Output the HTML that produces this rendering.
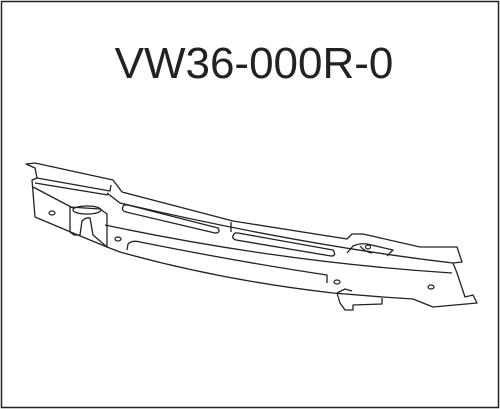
<!DOCTYPE html>
<html><head><style>
html,body{margin:0;padding:0;background:#fff;}
svg{display:block;}
</style></head><body>
<svg width="500" height="409" viewBox="0 0 500 409">
<rect x="1.5" y="1.5" width="497" height="406" fill="none" stroke="#222" stroke-width="1.5"/>
<text x="254" y="78" text-anchor="middle" font-family="Liberation Sans, sans-serif" font-size="44" fill="#222">VW36-000R-0</text>
<g fill="none" stroke="#222" stroke-width="1.3" stroke-linejoin="round">
<path d="M26,164 L35,163 L113,180 L122,192 L233,221 L347,239 L352,234 L363,234 L420,247 L457,247 L462,262 L453,263 L457,273 L465,297 L473,295 L477,303 L433,307 L413,299 L383,297 L333,293 Q220,280 120,252 L107,247 L73,233 L35,217 L32,180 L37,178 L35,168 Z"/>
<path d="M337,293 L340,303 L345,310 L353,310 L353,305 L382,304 L382,298"/>
<path d="M337,293 L345,289 L352,291"/>
<path d="M37,178 L110,191 L111,185"/>
<path d="M35,183 L108,195"/>
<path d="M33,187 L73,208"/>
<path d="M107,193 L120,203 Q300,245 453,263"/>
<path d="M105,225 Q280,262 452,273"/>
<path d="M127,250 L128,244 Q132,240 140,242 Q240,262 327,275 L327,283"/>
<path d="M124,205 Q120,210 126,212 L215,233 Q221,233 218,228 L128,205 Z"/>
<path d="M235,233 Q230,238 236,240 L331,256 Q337,256 333,250 L238,233 Z"/>
<path d="M70,207 L70,232 L74,235 L80,235 L82,221 Q86,217 90,218 L93,235 L107,247 L107,214 L100,209 Z"/>
<ellipse cx="87" cy="210" rx="14" ry="4"/>
<path d="M231,222 L231,232"/>
<path d="M347,253 L353,246 Q360,243 367,244 L393,250 L387,256"/>
<path d="M360,246 Q365,252 372,253"/>
</g>
<g fill="none" stroke="#222" stroke-width="1.2">
<ellipse cx="52" cy="213" rx="3" ry="2"/>
<ellipse cx="118" cy="239" rx="3" ry="2"/>
<ellipse cx="337" cy="282" rx="3" ry="2"/>
<ellipse cx="431" cy="287" rx="3" ry="2"/>
<ellipse cx="368" cy="247" rx="2.5" ry="2"/>
</g>
</svg>
</body></html>
